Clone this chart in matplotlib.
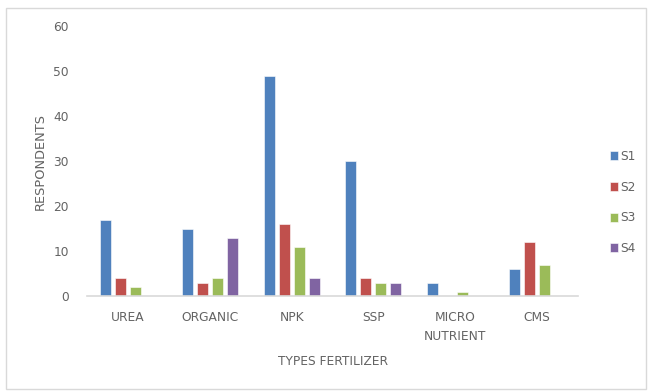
import matplotlib
matplotlib.use("Agg")
import matplotlib.pyplot as plt
import numpy as np
from matplotlib.patches import Rectangle

categories = ["UREA", "ORGANIC", "NPK", "SSP", "MICRO\nNUTRIENT", "CMS"]
series_names = ["S1", "S2", "S3", "S4"]
s1 = [17, 15, 49, 30, 3, 6]
s2 = [4, 3, 16, 4, 0, 12]
s3 = [2, 4, 11, 3, 1, 7]
s4 = [0, 13, 4, 3, 0, 0]
y_ticks = [0, 10, 20, 30, 40, 50, 60]

colors = ["#4F81BD", "#C0504D", "#9BBB59", "#8064A2"]
text_color = "#636363"

plt.rcParams["font.family"] = ["DejaVu Sans"]
fs = 8.8

fig = plt.figure(figsize=(6.5, 3.91), dpi=100)
ax = fig.add_axes([87 / 650, 1 - 296 / 391, (578 - 87) / 650, (296 - 26) / 391])

x = np.arange(len(categories))
pitch = 0.183
width = 0.135
for i, (name, vals) in enumerate(zip(series_names, [s1, s2, s3, s4])):
    ax.bar(x + (i - 1.5) * pitch, vals, width, color=colors[i], label=name,
           edgecolor="white", linewidth=0.4)

ax.set_xlim(-0.5, len(categories) - 0.5)
ax.set_ylim(0, 60)
ax.set_yticks(y_ticks)
ax.set_xticks(x)
ax.set_xticklabels(categories, fontsize=fs, color=text_color, linespacing=1.55)
ax.tick_params(axis="y", labelsize=fs, labelcolor=text_color, length=0, pad=13)
ax.tick_params(axis="x", length=0, pad=11)
for side in ["top", "right", "left"]:
    ax.spines[side].set_visible(False)
ax.spines["bottom"].set_color("#D9D9D9")
ax.spines["bottom"].set_linewidth(1.2)

ax.set_ylabel("RESPONDENTS", fontsize=9.3, color=text_color, labelpad=5)
ax.set_xlabel("TYPES FERTILIZER", fontsize=fs, color=text_color, labelpad=9)

leg = ax.legend(loc="upper left", bbox_to_anchor=(599 / 650, 1 - 139 / 391),
                bbox_transform=fig.transFigure, frameon=False, fontsize=fs,
                handlelength=0.65, handleheight=0.75, handletextpad=0.15,
                labelspacing=1.45)
for t in leg.get_texts():
    t.set_color(text_color)

fig.patches.append(Rectangle((6 / 650, 1 - 389 / 391), 640 / 650, 381 / 391,
                             transform=fig.transFigure, fill=False,
                             edgecolor="#D9D9D9", linewidth=1))

fig.savefig("out.png", dpi=100)
